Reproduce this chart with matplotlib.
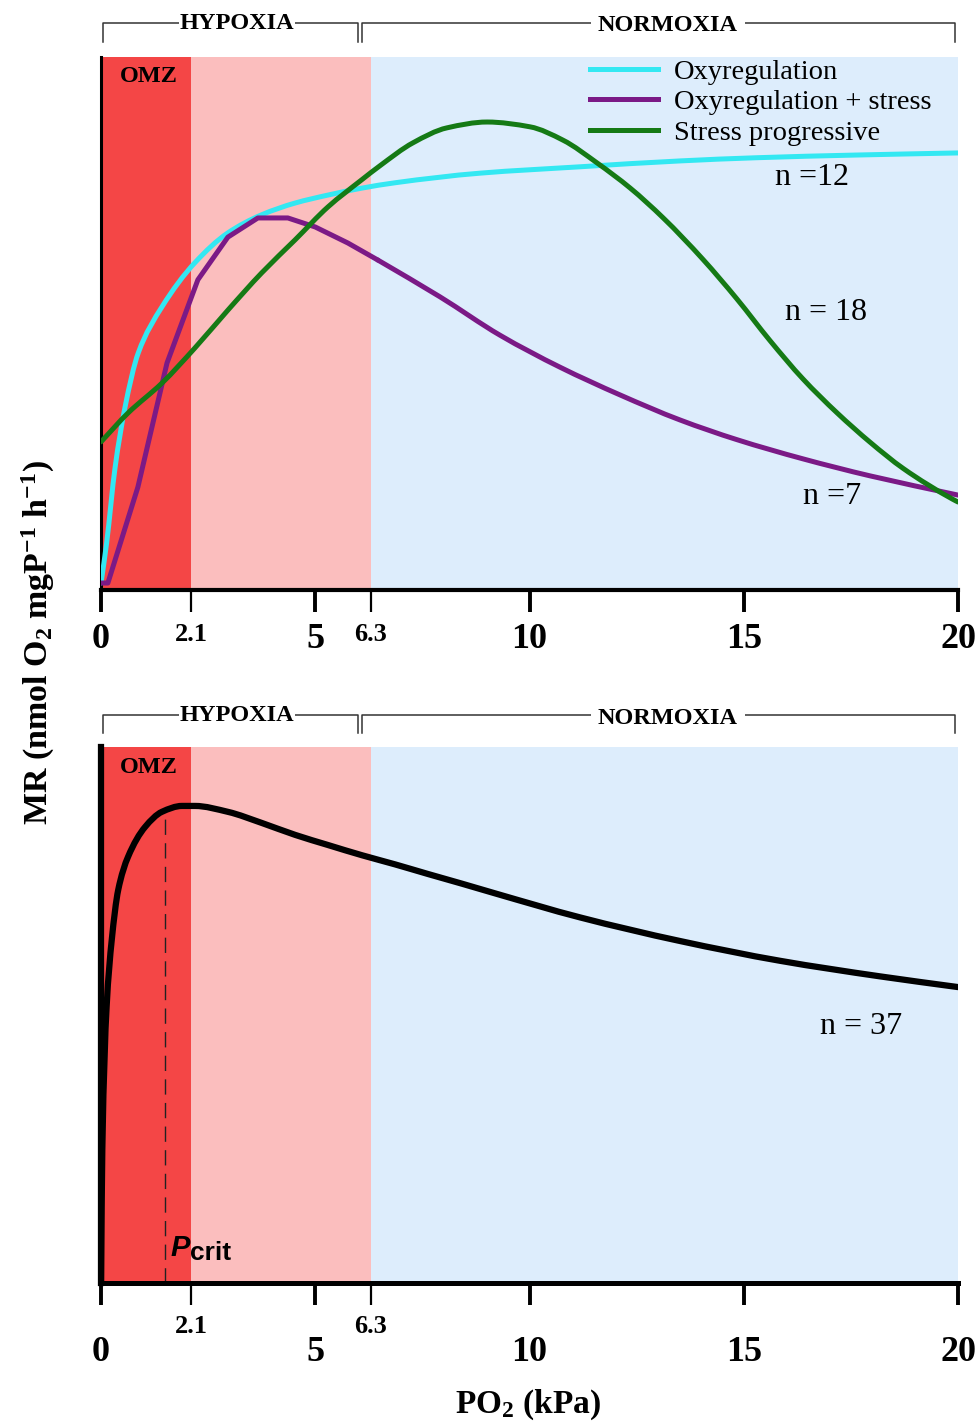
import numpy as np
import matplotlib
matplotlib.use("Agg")
import matplotlib.pyplot as plt
from matplotlib.path import Path
from matplotlib.patches import PathPatch
from matplotlib.lines import Line2D

plt.rcParams["font.family"] = ["Liberation Serif", "DejaVu Serif"]
plt.rcParams["mathtext.fontset"] = "custom"
plt.rcParams["mathtext.rm"] = "Liberation Serif:bold"
plt.rcParams["mathtext.it"] = "Liberation Serif:italic:bold"
plt.rcParams["mathtext.bf"] = "Liberation Serif:bold"

# ---- data -------------------------------------------------------------
OMZ_LIMIT = 2.1
HYPOXIA_LIMIT = 6.3
PO2_MAX = 20

major_ticks = [0, 5, 10, 15, 20]
minor_ticks = [OMZ_LIMIT, HYPOXIA_LIMIT]
minor_labels = ["2.1", "6.3"]

# Oxyregulation (n = 12)
oxy_x = [0.0, 0.13, 0.33, 0.56, 0.87, 1.42, 2.19, 2.96, 3.75, 4.53, 5.30,
         6.09, 6.86, 8.84, 11.18, 13.51, 15.3, 17.6, 20.0]
oxy_y = [1.3, 8.8, 23.1, 34.3, 44.5, 53.1, 61.4, 67.0, 70.4, 72.6, 74.1,
         75.4, 76.4, 78.2, 79.4, 80.5, 81.1, 81.6, 82.0]

# Oxyregulation + stress (n = 7)
stress_x = [0.0, 0.16, 0.86, 1.54, 2.26, 2.96, 3.66, 4.36, 5.0, 5.76, 6.46,
            7.91, 9.31, 10.71, 12.11, 13.51, 14.84, 16.38, 17.95, 20.0]
stress_y = [1.3, 1.3, 19.3, 42.6, 58.2, 66.2, 69.8, 69.8, 68.1, 65.1, 61.9,
            55.0, 47.8, 41.8, 36.6, 31.9, 28.2, 24.6, 21.4, 17.8]
STRESS_SEGMENTED = 10  # points joined by straight segments before the smooth tail

# Stress progressive (n = 18)
prog_x = [0.0, 0.63, 1.42, 2.19, 2.96, 3.75, 4.53, 5.30, 6.09, 6.51, 7.28,
          8.07, 9.01, 10.01, 10.78, 11.58, 12.35, 13.12, 14.05, 14.84, 15.61,
          16.38, 17.18, 17.95, 18.72, 19.88, 20.0]
prog_y = [27.8, 33.2, 38.8, 45.4, 52.5, 59.5, 65.7, 71.9, 77.0, 79.6, 83.9,
          86.7, 87.8, 86.9, 84.4, 80.1, 75.4, 69.8, 62.0, 54.6, 46.8,
          39.6, 33.2, 27.7, 22.8, 17.0, 16.5]

# Pooled response (n = 37)
all_x = [0.0, 0.03, 0.13, 0.25, 0.40, 0.63, 1.03, 1.42, 1.89, 2.19, 2.96,
         3.76, 4.53, 5.30, 6.09, 6.86, 7.63, 8.42, 9.19, 11.18, 13.51, 15.85,
         18.18, 20.0]
all_y = [0.0, 25.0, 51.5, 64.0, 73.3, 79.5, 85.1, 87.9, 89.0, 89.0, 87.9,
         85.8, 83.6, 81.7, 79.8, 78.1, 76.3, 74.5, 72.7, 68.2, 63.8, 60.1,
         57.2, 55.2]
pcrit = 1.49
pcrit_mr = 87.9

# ---- styling ----------------------------------------------------------
C_OXY = "#33E8F2"
C_STRESS = "#7B1A86"
C_PROG = "#157A15"
C_OMZ = "#F44646"
C_HYP = "#FBBEBE"
C_NOR = "#DDEDFC"
SERIF = ["Liberation Serif", "DejaVu Serif"]
SANS = ["Liberation Sans", "DejaVu Sans"]


def _pchip_slopes(x, y):
    h = np.diff(x)
    d = np.diff(y) / h
    m = np.empty_like(y)
    m[0], m[-1] = d[0], d[-1]
    for k in range(1, len(x) - 1):
        if d[k - 1] * d[k] <= 0:
            m[k] = 0.0
        else:
            w1 = 2 * h[k] + h[k - 1]
            w2 = h[k] + 2 * h[k - 1]
            m[k] = (w1 + w2) / (w1 / d[k - 1] + w2 / d[k])
    return m


def smooth_curve(ax, xs, ys, color, lw, zorder=3):
    """Draw a shape-preserving cubic Bezier path through the points."""
    x = np.asarray(xs, float)
    y = np.asarray(ys, float)
    m = _pchip_slopes(x, y)
    verts = [(x[0], y[0])]
    codes = [Path.MOVETO]
    for i in range(len(x) - 1):
        h = x[i + 1] - x[i]
        verts += [(x[i] + h / 3, y[i] + m[i] * h / 3),
                  (x[i + 1] - h / 3, y[i + 1] - m[i + 1] * h / 3),
                  (x[i + 1], y[i + 1])]
        codes += [Path.CURVE4] * 3
    patch = PathPatch(Path(verts, codes), facecolor="none", edgecolor=color,
                      lw=lw, capstyle="round", joinstyle="round",
                      zorder=zorder)
    ax.add_patch(patch)
    return patch


fig = plt.figure(figsize=(9.8, 14.25), dpi=100)
ax_top = fig.add_axes([0.1031, 0.5860, 0.8745, 0.3740])
ax_bot = fig.add_axes([0.1031, 0.0997, 0.8745, 0.3761])


def decorate(ax, spine_left_w, spine_bottom_w, bracket_y, bracket_drop,
             major_pad, minor_pad, hyp_text_y, nor_text_y):
    ax.axvspan(0, OMZ_LIMIT, color=C_OMZ, lw=0, zorder=0)
    ax.axvspan(OMZ_LIMIT, HYPOXIA_LIMIT, color=C_HYP, lw=0, zorder=0)
    ax.axvspan(HYPOXIA_LIMIT, PO2_MAX, color=C_NOR, lw=0, zorder=0)
    ax.set_xlim(0, PO2_MAX)
    ax.set_ylim(0, 100)
    ax.set_facecolor("white")
    for s in ("top", "right"):
        ax.spines[s].set_visible(False)
    ax.spines["left"].set_linewidth(spine_left_w)
    ax.spines["bottom"].set_linewidth(spine_bottom_w)
    ax.set_yticks([])

    ax.set_xticks(major_ticks)
    ax.set_xticklabels([str(t) for t in major_ticks])
    ax.set_xticks(minor_ticks, minor=True)
    ax.set_xticklabels(minor_labels, minor=True)
    ax.tick_params(axis="x", which="major", direction="out", length=16,
                   width=2.8, labelsize=26, pad=major_pad)
    ax.tick_params(axis="x", which="minor", direction="out", length=16,
                   width=1.6, labelsize=19, pad=minor_pad)
    for lab in ax.get_xticklabels(which="both"):
        lab.set_fontweight("bold")
        lab.set_family(SERIF)

    # region brackets above the plot
    tr = ax.get_xaxis_transform()
    top, low = bracket_y, bracket_y - bracket_drop
    kw = dict(transform=tr, clip_on=False, color="#333333", lw=1.1)
    h0, h1 = 0.05, HYPOXIA_LIMIT - 0.3
    n0, n1 = HYPOXIA_LIMIT - 0.2, 19.93
    ax.plot([h0, h0, h1, h1], [low, top, top, low], **kw)
    ax.plot([n0, n0, n1, n1], [low, top, top, low], **kw)
    ax.text(3.17, hyp_text_y, "HYPOXIA", transform=tr, ha="center", va="center",
            fontsize=17.5, fontweight="bold", family=SERIF,
            bbox=dict(facecolor="white", edgecolor="none", pad=0.5))
    ax.text(13.23, nor_text_y, "NORMOXIA", transform=tr, ha="center", va="center",
            fontsize=17.5, fontweight="bold", family=SERIF,
            bbox=dict(facecolor="white", edgecolor="none", pad=5))
    return tr


# ---- top panel --------------------------------------------------------
tr = decorate(ax_top, 2.2, 3.0, 1.0638, 0.0357, 8, 8, 1.062, 1.059)
ax_top.text(1.12, 0.964, "OMZ", transform=tr, ha="center", va="center",
            fontsize=17.5, fontweight="bold", family=SERIF)

LW = 3.6
smooth_curve(ax_top, oxy_x, oxy_y, C_OXY, LW)
ax_top.plot(stress_x[:STRESS_SEGMENTED + 1], stress_y[:STRESS_SEGMENTED + 1],
            color=C_STRESS, lw=LW, solid_capstyle="round",
            solid_joinstyle="round", zorder=3)
smooth_curve(ax_top, stress_x[STRESS_SEGMENTED:], stress_y[STRESS_SEGMENTED:],
             C_STRESS, LW)
smooth_curve(ax_top, prog_x, prog_y, C_PROG, LW)

labels = ["Oxyregulation", "Oxyregulation + stress", "Stress progressive"]
colors = [C_OXY, C_STRESS, C_PROG]
handles = [Line2D([], [], color=c, lw=LW) for c in colors]
ax_top.legend(handles, labels, loc="upper left",
              bbox_to_anchor=(0.5706, 0.997), frameon=False,
              prop=dict(family=SERIF, size=20.5), handlelength=2.4,
              handletextpad=0.55, labelspacing=0.16, borderpad=0,
              borderaxespad=0)

for txt, lx, ly in [("n =12", 16.59, 77.3), ("n = 18", 16.92, 52.0),
                    ("n =7", 17.06, 17.6)]:
    ax_top.text(lx, ly, txt, ha="center", va="center", fontsize=23,
                family=SERIF)

# ---- bottom panel -----------------------------------------------------
tr = decorate(ax_bot, 4.5, 3.6, 1.0597, 0.0336, 22, 7, 1.058, 1.054)
ax_bot.text(1.12, 0.961, "OMZ", transform=tr, ha="center", va="center",
            fontsize=17.5, fontweight="bold", family=SERIF)
smooth_curve(ax_bot, all_x, all_y, "black", 4.5)
ax_bot.plot([pcrit, pcrit], [0, pcrit_mr], color="#222222", lw=1.0,
            dashes=(11, 6), zorder=2)
ax_bot.text(1.62, 5.0, "P", ha="left", va="baseline", fontsize=21,
            fontweight="bold", fontstyle="italic", family=SANS)
ax_bot.text(2.08, 4.3, "crit", ha="left", va="baseline", fontsize=19,
            fontweight="bold", family=SANS)
ax_bot.text(17.74, 47.8, "n = 37", ha="center", va="center", fontsize=23,
            family=SERIF)

# ---- shared axis titles -------------------------------------------------
fig.text(38 / 980, 1 - 643 / 1425, r"MR (nmol O$_2$ mgP$^{-1}$ h$^{-1}$)",
         rotation=90, ha="center", va="center", fontsize=24.5,
         fontweight="bold", family=SERIF)
fig.text(528 / 980, 1 - 1405 / 1425, r"PO$_2$ (kPa)", ha="center",
         va="center", fontsize=24, fontweight="bold", family=SERIF)

fig.savefig("out.png", dpi=100, facecolor="white")
